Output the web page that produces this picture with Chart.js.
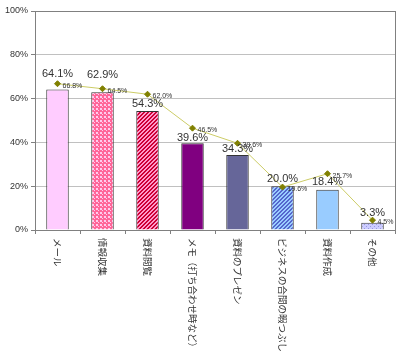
<!DOCTYPE html>
<html>
<head>
<meta charset="utf-8">
<script src="https://cdn.jsdelivr.net/npm/chart.js@4.4.1/dist/chart.umd.min.js"></script>
<style>
  html, body { margin: 0; padding: 0; background: #fff; }
  #wrap { width: 400px; height: 359px; }
</style>
</head>
<body>
<div id="wrap"><canvas id="chart"></canvas></div>
<script>
// data
const categories = ['メール', '情報収集', '資料閲覧', 'メモ（打ち合わせ時など）', '資料のプレゼン', 'ビジネスの合間の暇つぶし', '資料作成', 'その他'];
const barValues = [64.1, 62.9, 54.3, 39.6, 34.3, 20.0, 18.4, 3.3];
const lineValues = [66.8, 64.5, 62.0, 46.5, 39.6, 19.6, 25.7, 4.5];
const yTicks = [0, 20, 40, 60, 80, 100];

// small tiles for the hatched bars
function tile(draw) {
    const c = document.createElement('canvas');
    c.width = 4; c.height = 4;
    const g = c.getContext('2d');
    draw(g);
    return document.getElementById('chart').getContext('2d').createPattern(c, 'repeat');
}
function diag(fg, bg) {
    return tile(g => {
        g.fillStyle = bg; g.fillRect(0, 0, 4, 4);
        g.fillStyle = fg;
        for (let i = 0; i < 4; i++) {
            g.fillRect(i, 3 - i, 1, 1);
            g.fillRect((i + 1) % 4, 3 - i, 1, 1);
        }
    });
}
const checker = tile(g => {
    g.fillStyle = '#ff6699'; g.fillRect(0, 0, 4, 4);
    g.fillStyle = '#ffccee'; g.fillRect(0, 0, 2, 2); g.fillRect(2, 2, 1, 1);
});
const dots = tile(g => {
    g.fillStyle = '#ccccff'; g.fillRect(0, 0, 4, 4);
    g.fillStyle = '#9999dd'; g.fillRect(0, 0, 1, 1); g.fillRect(2, 2, 1, 1);
});

const barColors = ['#ffccff', checker, diag('#cc0033', '#ff99cc'), '#800080', '#666699', diag('#5566cc', '#99ccff'), '#99ccff', dots];

// value labels, bar labels a bit higher on the first two bars
const barLift = [10, 12, 2, 0, 0, 2, 2, 4];
const labelPlugin = {
    id: 'labels',
    afterDatasetsDraw(chart) {
        const ctx = chart.ctx;
        const pts = chart.getDatasetMeta(0).data;
        const bars = chart.getDatasetMeta(1).data;
        ctx.save();
        ctx.font = '11px "Liberation Sans", Arial, sans-serif';
        ctx.fillStyle = '#333';
        ctx.textAlign = 'center';
        ctx.textBaseline = 'bottom';
        bars.forEach((b, i) => {
            ctx.fillText(barValues[i].toFixed(1) + '%', b.x, b.y - barLift[i]);
        });
        ctx.font = '7px "Liberation Sans", Arial, sans-serif';
        ctx.textAlign = 'left';
        ctx.textBaseline = 'middle';
        pts.forEach((p, i) => {
            ctx.fillText(lineValues[i].toFixed(1) + '%', p.x + 5, p.y + 2);
        });
        ctx.restore();
    },
    afterDraw(chart) {
        const ctx = chart.ctx;
        const a = chart.chartArea;
        const xs = chart.scales.x;
        ctx.save();
        // frame round the plot area
        ctx.strokeStyle = '#808080';
        ctx.lineWidth = 1;
        ctx.strokeRect(Math.round(a.left) + 0.5, Math.round(a.top) + 0.5, Math.round(a.right - a.left), Math.round(a.bottom - a.top));
        // category names, turned to read top to bottom
        ctx.font = '9.5px "Noto Sans CJK JP", sans-serif';
        ctx.fillStyle = '#333';
        ctx.textAlign = 'left';
        ctx.textBaseline = 'middle';
        categories.forEach((c, i) => {
            ctx.save();
            ctx.translate(xs.getPixelForValue(i), a.bottom + 8);
            ctx.rotate(Math.PI / 2);
            ctx.fillText(c, 0, 0);
            ctx.restore();
        });
        ctx.restore();
    }
};

new Chart(document.getElementById('chart'), {
    data: {
        labels: categories,
        datasets: [
            {
                type: 'line',
                data: lineValues,
                borderColor: '#cccc66',
                borderWidth: 1,
                pointStyle: 'rectRot',
                pointRadius: 3,
                pointBackgroundColor: '#808000',
                pointBorderColor: '#808000',
                order: 0
            },
            {
                type: 'bar',
                data: barValues,
                backgroundColor: barColors,
                borderColor: '#333',
                borderWidth: 1,
                barPercentage: 0.5,
                categoryPercentage: 1,
                order: 1
            }
        ]
    },
    options: {
        responsive: true,
        maintainAspectRatio: false,
        animation: false,
        layout: { padding: { top: 11, right: 5, left: 0, bottom: 0 } },
        plugins: { legend: { display: false }, tooltip: { enabled: false } },
        scales: {
            x: {
                ticks: { display: false },
                grid: { offset: true, drawOnChartArea: false, tickLength: 4, color: '#808080' },
                border: { color: '#808080' },
                afterFit: s => { s.height = 129; }
            },
            y: {
                min: 0,
                max: 100,
                afterBuildTicks: s => { s.ticks = yTicks.map(v => ({ value: v })); },
                ticks: {
                    callback: v => v + '%',
                    color: '#333',
                    padding: 3,
                    font: { size: 9, family: '"Liberation Sans", Arial, sans-serif' }
                },
                grid: { color: '#c0c0c0', tickLength: 4, tickColor: '#808080' },
                border: { color: '#808080' },
                afterFit: s => { s.width = 35; }
            }
        }
    },
    plugins: [labelPlugin]
});
</script>
</body>
</html>
